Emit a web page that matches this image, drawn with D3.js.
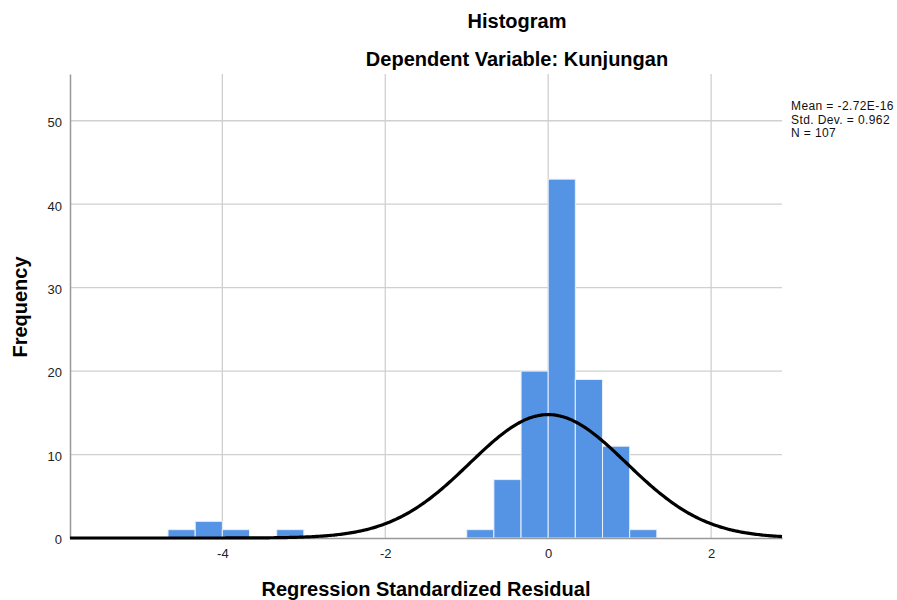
<!DOCTYPE html>
<html><head><meta charset="utf-8">
<script src="https://cdn.jsdelivr.net/npm/d3@7"></script>
<style>body{margin:0;background:#fff;font-family:"Liberation Sans",Arial,sans-serif;}</style>
</head><body>
<svg id="c" width="897" height="600"></svg>
<script>
const binStarts = [-4.667, -4.333, -4.0, -3.333, -1.0, -0.667, -0.333, 0.0, 0.333, 0.667, 1.0];
const counts    = [1, 2, 1, 1, 1, 7, 20, 43, 19, 11, 1];
const binWidth = 0.3333;
const xTicks = [-4, -2, 0, 2];
const yTicks = [0, 10, 20, 30, 40, 50];
const statMean = -2.72e-16, statSD = 0.962, statN = 107;
const statLines = ["Mean = -2.72E-16", "Std. Dev. = 0.962", "N = 107"];

const svg = d3.select("#c");
const x = d3.scaleLinear().domain([-5.87, 2.87]).range([70, 782]);
const y = d3.scaleLinear().domain([0, 55.6]).range([538, 74]);

// grid
svg.append("g").selectAll("line").data(yTicks.filter(d=>d>0)).join("line")
  .attr("x1", x.range()[0]).attr("x2", x.range()[1])
  .attr("y1", d=>y(d)).attr("y2", d=>y(d))
  .attr("stroke", "#d0d0d0").attr("stroke-width", 1.3);
svg.append("g").selectAll("line").data(xTicks).join("line")
  .attr("x1", d=>x(d)).attr("x2", d=>x(d))
  .attr("y1", y.range()[1]).attr("y2", y(0))
  .attr("stroke", "#d0d0d0").attr("stroke-width", 1.3);

// bars
svg.append("g").selectAll("rect").data(binStarts).join("rect")
  .attr("x", d=>x(d)).attr("width", d=>x(d+binWidth)-x(d))
  .attr("y", (d,i)=>y(counts[i])).attr("height", (d,i)=>y(0)-y(counts[i]))
  .attr("fill", "#5594e4").attr("stroke", "#e8f0fb").attr("stroke-width", 1);

const fmt = d => String(d);
// axes
const yAxis = d3.axisLeft(y).tickValues(yTicks).tickFormat(fmt).tickSize(0).tickPadding(8);
const gy = svg.append("g").attr("transform", `translate(${x.range()[0]},0)`).call(yAxis);
gy.select(".domain").attr("stroke", "#999").attr("stroke-width", 1.5);
gy.selectAll("text").attr("font-size", 13).attr("fill", "#222").attr("font-family", "Liberation Sans, Arial").attr("dy", "0.45em");

const xAxis = d3.axisBottom(x).tickValues(xTicks).tickFormat(fmt).tickSize(0).tickPadding(11);
const gx = svg.append("g").attr("transform", `translate(0,${y(0)})`).call(xAxis);
gx.select(".domain").attr("stroke", "#999").attr("stroke-width", 1.5);
gx.selectAll("text").attr("font-size", 13).attr("fill", "#222").attr("font-family", "Liberation Sans, Arial");

// normal curve from stated mean / sd / N
const pts = d3.range(x.domain()[0], x.domain()[1] + 0.001, 0.02).map(v => {
  const dens = Math.exp(-0.5 * Math.pow((v - statMean) / statSD, 2)) / (statSD * Math.sqrt(2 * Math.PI));
  return [v, dens * statN * binWidth];
});
svg.append("path").datum(pts)
  .attr("d", d3.line().x(d=>x(d[0])).y(d=>y(d[1])).curve(d3.curveBasis))
  .attr("fill", "none").attr("stroke", "#000").attr("stroke-width", 3.2);

// titles
svg.append("text").attr("x", 517).attr("y", 28).attr("text-anchor", "middle")
  .attr("font-size", 20).attr("font-weight", "bold").text("Histogram");
svg.append("text").attr("x", 517).attr("y", 66).attr("text-anchor", "middle")
  .attr("font-size", 20).attr("font-weight", "bold").text("Dependent Variable: Kunjungan");
svg.append("text").attr("x", 426).attr("y", 596).attr("text-anchor", "middle")
  .attr("font-size", 20).attr("font-weight", "bold").text("Regression Standardized Residual");
svg.append("text").attr("transform", "translate(27,307) rotate(-90)").attr("text-anchor", "middle")
  .attr("font-size", 20).attr("font-weight", "bold").text("Frequency");

// stats
svg.append("g").selectAll("text").data(statLines).join("text")
  .attr("x", 791).attr("y", (d,i)=>110 + i*13.5)
  .attr("font-size", 12).attr("letter-spacing", "0.4px").attr("fill", "#111").text(d=>d);
</script>
</body></html>
